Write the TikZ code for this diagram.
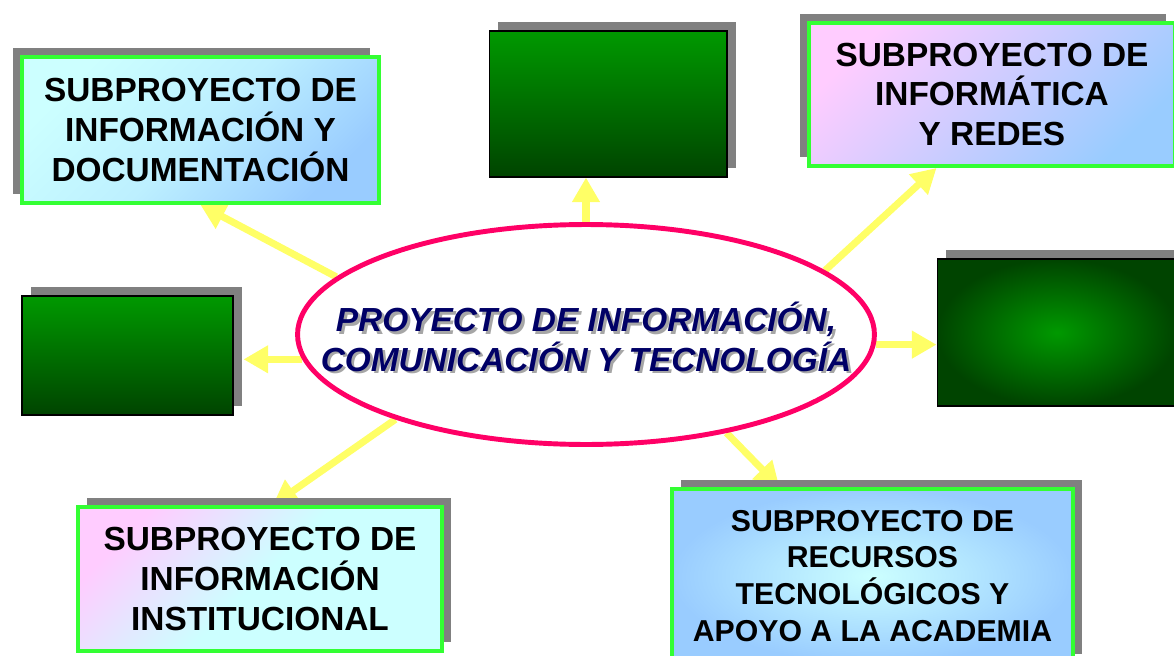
\documentclass[tikz,border=0pt]{standalone}
\usepackage{fontspec}
\setmainfont{Liberation Sans}
\usepackage{tikz}
\usetikzlibrary{arrows.meta,positioning,shapes.geometric,shadows,calc,backgrounds}
\definecolor{verdeborde}{HTML}{33FF33}
\definecolor{verdeclaro}{HTML}{009900}
\definecolor{verdeoscuro}{HTML}{004400}
\definecolor{celeste}{HTML}{CCFFFF}
\definecolor{azulclaro}{HTML}{99CCFF}
\definecolor{rosa}{HTML}{FFCCFF}
\definecolor{sombragris}{HTML}{808080}
\definecolor{rojoelipse}{HTML}{FF0066}
\definecolor{flechaamarilla}{HTML}{FFFF66}
\definecolor{azultexto}{HTML}{000066}
\newcommand{\textosombra}[1]{\makebox[0pt][l]{\hspace{1.6pt}\raisebox{-1.6pt}{\color{black!35}#1}}#1}

\begin{document}
\begin{tikzpicture}[
  x=0.02cm, y=-0.02cm,
  sub/.style={
    rectangle, draw=verdeborde, line width=2.3pt, align=center,
    font=\bfseries\fontsize{19}{22.7}\selectfont
  },
  verde/.style={
    rectangle, draw=black, line width=0.6pt,
    top color=verdeclaro, bottom color=verdeoscuro
  },
  sombraizq/.style={general shadow={shadow xshift=-0.18cm, shadow yshift=0.18cm, fill=sombragris}},
  sombrader/.style={general shadow={shadow xshift=0.18cm, shadow yshift=0.18cm, fill=sombragris}},
  flecha/.style={-{Triangle[width=15pt,length=14pt]}, draw=flechaamarilla, line width=4pt}
]
\useasboundingbox (0,0) rectangle (1174,656);

\node[ellipse, draw=rojoelipse, line width=2.8pt, minimum width=11.54cm, minimum height=4.4cm,
  inner sep=0pt,
  label={[align=center, text=azultexto, font=\bfseries\itshape\fontsize{19}{22.7}\selectfont, yshift=-0.07cm]center:
    \textosombra{PROYECTO DE INFORMACIÓN,}\\\textosombra{COMUNICACIÓN Y TECNOLOGÍA}}]
  (centro) at (586,334.5) {};

\node[sub, sombraizq, minimum width=7.14cm, minimum height=2.92cm,
  top color=celeste, bottom color=azulclaro, middle color=celeste!70!azulclaro, shading angle=45]
  (doc) at (200.5,130) {SUBPROYECTO DE\\INFORMACIÓN Y\\DOCUMENTACIÓN};

\node[verde, sombrader, minimum width=4.76cm, minimum height=2.92cm] (g1) at (608,104) {};

\node[sub, sombraizq, minimum width=7.32cm, minimum height=2.86cm,
  top color=rosa, bottom color=azulclaro, shading angle=45]
  (inf) at (992,94.5) {SUBPROYECTO DE\\INFORMÁTICA\\Y REDES};

\node[verde, sombrader, minimum width=4.22cm, minimum height=2.38cm] (g2) at (127.5,355.5) {};

\node[rectangle, draw=black, line width=0.6pt, inner color=verdeclaro, outer color=verdeoscuro,
  sombrader, minimum width=4.8cm, minimum height=2.94cm] (g3) at (1057,332.5) {};

\node[sub, sombrader, minimum width=7.28cm, minimum height=2.88cm,
  top color=rosa, bottom color=celeste, middle color=celeste, shading angle=45]
  (inst) at (260,579) {SUBPROYECTO DE\\INFORMACIÓN\\INSTITUCIONAL};

\node[sub, sombrader, minimum width=8.02cm, minimum height=3.48cm,
  inner color=celeste, outer color=azulclaro, font=\bfseries\fontsize{17.2}{21}\selectfont]
  (rec) at (872.5,576) {SUBPROYECTO DE\\RECURSOS\\TECNOLÓGICOS Y\\APOYO A LA ACADEMIA};

% flechas amarillas
\begin{scope}[on background layer]
\draw[flecha] (centro.167) -- (doc.south);
\draw[flecha] (centro.north) -- (centro.north |- g1.south);
\draw[flecha] (centro.15) -- ($(inf.south west)!0.35!(inf.south east)$);
\draw[flecha] (centro.185) -- ($(g2.east |- centro.185)+(10,0)$);
\draw[flecha] (centro.358) -- (centro.358 -| g3.west);
\draw[flecha] (centro.204) -- ($(inst.north west)!0.535!(inst.north east)$);
\draw[flecha] (centro.-35) -- ($(rec.north west)!0.27!(rec.north east)$);
\end{scope}
\end{tikzpicture}
\end{document}
